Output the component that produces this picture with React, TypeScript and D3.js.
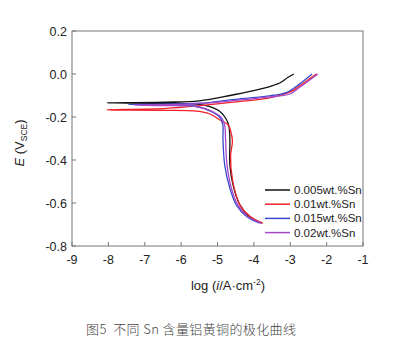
import React from "react";
import * as d3 from "d3";

// log(i) and E pairs, traced from cathodic end -> corrosion point -> anodic end
const seriesNames = ["0.005wt.%Sn", "0.01wt.%Sn", "0.015wt.%Sn", "0.02wt.%Sn"];
const seriesColors = ["#111111", "#f0202a", "#3a48d0", "#a448c8"];

const sn005: [number, number][] = [
  [-3.78, -0.694], [-4.14, -0.662], [-4.38, -0.61], [-4.55, -0.532], [-4.66, -0.425],
  [-4.66, -0.3], [-4.69, -0.24], [-4.77, -0.207], [-4.95, -0.172], [-5.21, -0.152],
  [-5.6, -0.14], [-6.5, -0.136], [-8.04, -0.134], [-6.4, -0.131], [-5.5, -0.125],
  [-4.66, -0.1], [-3.64, -0.062], [-3.29, -0.042], [-3.07, -0.016], [-2.9, 0.0],
];
const sn01: [number, number][] = [
  [-3.75, -0.694], [-4.11, -0.662], [-4.38, -0.61], [-4.58, -0.5], [-4.64, -0.378],
  [-4.59, -0.316], [-4.61, -0.286], [-4.71, -0.236], [-4.93, -0.214], [-5.21, -0.186],
  [-5.57, -0.173], [-6.5, -0.169], [-8.04, -0.167], [-6.4, -0.16], [-5.48, -0.147],
  [-4.58, -0.131], [-3.64, -0.113], [-3.23, -0.097], [-2.93, -0.077], [-2.6, -0.038],
  [-2.28, 0.0],
];
const sn015: [number, number][] = [
  [-3.84, -0.694], [-4.2, -0.663], [-4.48, -0.61], [-4.66, -0.532], [-4.8, -0.425],
  [-4.85, -0.3], [-4.85, -0.24], [-4.92, -0.205], [-5.13, -0.177], [-5.6, -0.15],
  [-6.5, -0.145], [-7.46, -0.142], [-6.5, -0.14], [-5.48, -0.136], [-4.58, -0.119],
  [-3.64, -0.103], [-3.09, -0.085], [-2.74, -0.046], [-2.4, 0.0],
];
const sn02: [number, number][] = [
  [-3.8, -0.694], [-4.17, -0.663], [-4.44, -0.61], [-4.62, -0.53], [-4.74, -0.42],
  [-4.78, -0.3], [-4.8, -0.24], [-4.88, -0.205], [-5.1, -0.178], [-5.6, -0.152],
  [-6.5, -0.147], [-7.3, -0.144], [-6.5, -0.143], [-5.48, -0.138], [-4.58, -0.124],
  [-3.64, -0.108], [-3.01, -0.093], [-2.74, -0.062], [-2.24, 0.0],
];
const seriesData = [sn005, sn01, sn015, sn02];

const xTicks = [-9, -8, -7, -6, -5, -4, -3, -2, -1];
const yTicks = [0.2, 0.0, -0.2, -0.4, -0.6, -0.8];
const caption = "图5  不同 Sn 含量铝黄铜的极化曲线";

export default function App() {
  const W = 398, H = 357;
  const L = 72, R = 363, T = 31, B = 246;
  const x = d3.scaleLinear().domain([-9, -1]).range([L, R]);
  const y = d3.scaleLinear().domain([-0.8, 0.2]).range([B, T]);
  const line = d3
    .line<[number, number]>()
    .x((d) => x(d[0]))
    .y((d) => y(d[1]))
    .curve(d3.curveCatmullRom.alpha(0.5));
  const font = "Liberation Sans, Arial, sans-serif";
  const legendY = [190, 204.2, 218.4, 232.6];
  const drawOrder = [0, 1, 2, 3];

  return (
    <svg
      width={W}
      height={H}
      style={{ position: "absolute", left: 0, top: 0, background: "#fff" }}
      fontFamily={font}
    >
      <rect x={0} y={0} width={W} height={H} fill="#fff" />
      {/* frame */}
      <rect x={L} y={T} width={R - L} height={B - T} fill="none" stroke="#777" strokeWidth={1} />
      {/* x ticks */}
      {xTicks.map((t) => (
        <g key={"x" + t}>
          <line x1={x(t)} x2={x(t)} y1={B} y2={B - 4} stroke="#777" />
          <text x={x(t)} y={264} textAnchor="middle" fontSize={12.5} fill="#222">
            {String(t)}
          </text>
        </g>
      ))}
      {/* y ticks */}
      {yTicks.map((t) => (
        <g key={"y" + t}>
          <line x1={L} x2={L + 4} y1={y(t)} y2={y(t)} stroke="#777" />
          <text x={67} y={y(t) + 4.5} textAnchor="end" fontSize={12.5} fill="#222">
            {Math.abs(t) < 1e-9 ? "0.0" : t.toFixed(1)}
          </text>
        </g>
      ))}
      {/* curves */}
      {drawOrder.map((i) => (
        <path
          key={"s" + i}
          d={line(seriesData[i]) || ""}
          fill="none"
          stroke={seriesColors[i]}
          strokeWidth={1.3}
          strokeLinejoin="round"
        />
      ))}
      {/* legend */}
      {seriesNames.map((n, i) => (
        <g key={"l" + i}>
          <line x1={265} x2={290} y1={legendY[i]} y2={legendY[i]} stroke={seriesColors[i]} strokeWidth={1.5} />
          <text x={294} y={legendY[i] + 4} fontSize={11.5} fill="#222">
            {n}
          </text>
        </g>
      ))}
      {/* x label */}
      <text x={228} y={290} textAnchor="middle" fontSize={13} fill="#222">
        {"log ("}
        <tspan fontStyle="italic">i</tspan>
        {"/A·cm"}
        <tspan fontSize={8.5} dy={-5}>
          -2
        </tspan>
        <tspan dy={5}>)</tspan>
      </text>
      {/* y label */}
      <text transform="translate(24,143) rotate(-90)" textAnchor="middle" fontSize={13} fill="#222">
        <tspan fontStyle="italic">E</tspan>
        {" (V"}
        <tspan fontSize={8.5} dy={3}>
          SCE
        </tspan>
        <tspan dy={-3}>)</tspan>
      </text>
      {/* caption */}
      <text
        x={86}
        y={334}
        fontSize={13}
        fill="#444"
        fontFamily="Noto Sans CJK SC, sans-serif"
        fontWeight={300}
        style={{ whiteSpace: "pre" }}
        textLength={210}
        lengthAdjust="spacing"
      >
        {caption}
      </text>
    </svg>
  );
}
